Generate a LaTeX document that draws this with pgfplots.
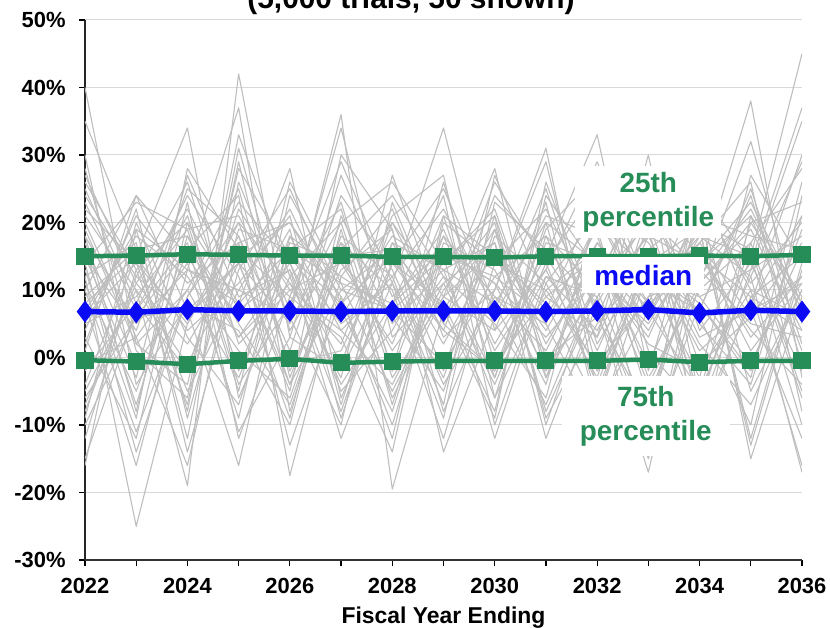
\documentclass[border=0pt]{standalone}
\usepackage{pgfplots}
\usepackage{pgfplotstable}
\pgfplotsset{compat=1.18}
\usepackage{fontspec}
\setmainfont{Liberation Sans}
\definecolor{pgreen}{RGB}{38,140,88}
\definecolor{pblue}{RGB}{10,10,245}
\definecolor{trialgray}{RGB}{190,190,190}
\definecolor{gridgray}{RGB}{217,217,217}

% 50 simulated trials shown (rows = trials, columns = fiscal years)
\pgfplotstableread{
s   2022 2023 2024 2025 2026 2027 2028 2029 2030 2031 2032 2033 2034 2035 2036
t1   40   2   10   -3   15    8   20    5   -2   12    9   18    3    7   11
t2   12 -25    5   18   -4   10    7   14   22    0    6   -8   15    9    4
t3    8  15   34   -6   12   20   -3    9   16    5  -10   13    7   25    2
t4   -5  10  -19   42    3   -2   14   25    8   -7   11   20   -1    6   17
t5   18   5   13   37   -8   15    1   12   -3   20   14    6   22   -5   10
t6    3 -12   20    8   28   -6   11   34    4   13   -2    9   18   12  -17
t7   22  14   -5   10    6   36 -19.5   7   19    2   15   -4   11   20    8
t8   10  24    7  -16   18    4   12   -7   27    9    3   30   -6   15   45
t9  -10   6   16   24 -17.5  12   22    3   10   31   -5   14    8   -2   19
t10  15  -3   27    9   13  -12    8   19    2   15   33   -2   24   10    6
t11  27  11    2   15   20    7   -8   16   11   -4   21    8   13   38   -3
t12   6  19   -8   31    4   17   10  -12   14   22    7  -17   16    3   12
t13  -2   8   24   12   -9   21    5   13   -6   18   10   27    4   14   37
t14  14 -14    9   20   11   -3   27    6   15    8   -7   16   22  -15    9
t15  20   3   14   -9   24   10   16   -2   21  -10   12    5   17   26   -8
t16   9  16  -12   26    7   34    3   11   -4   14   25   10   -9    8   21
t17  -8  12    6   14   -4   18   12   22    7   25    2   15   11   19    4
t18  16  -7   18    3   14   -1   20    9   28   -3   17    7   -5   12   29
t19   4  21   11   17  -13    9  -10   15   12    6   19   -6   14   21    1
t20  25   8   -2   22   10   14    6   -5   18   11   -3   22    9   -1   16
t21  11  -5   16    6   19   -9   14    8   -8   24   13    3   20   16   -6
t22 -12  13   20   -4    8   23   -2   18    9    1   16   12   -3   27   14
t23  19   2   -4   28   15    5   11   -9   23   16    8  -11   26    7  -12
t24   7  18   12    1   -6   16   24   12    5   -6   22   17    6  -10   24
t25  13  -9   28   16    9    3  -14   20   14   10   -1    9   12   22    7
t26  -4  15    4   11   21   -7   17    4   -2   19   27    1   -8   13   18
t27  23   7   17  -11    3   27    9   16   11    3   12   25   15    4   -4
t28   2  22   -9   19   16   11   -5   10   20   -9    5   14   19  -13   13
t29  17  -1   10   25   -2   13   19  -14    6   21   18   -3   10   17   28
t30  -7  11   22    7   13   -4    8   24  -10   12    4   19  -11    9   15
t31  12  17  -14   13   25    8   15    2   16    7   24   11    7   24   -1
t32  30  -4    8    4  -10   19   -7   17   13   -2   10   -9   23   11   20
t33   5   9   19   21    6  -10   23    5   26   14   -4   16    2   -7   10
t34  -9  20    3   -7   17   14    2   21   -3   17   14    4   18   15  -10
t35  15   4   25   18    1   24   13   -4    9    5   20   13   -5   20   23
t36   8 -16   13   10   22    6   18   13   17  -12    8   21   13    5    3
t37  26  13   -7   29   -3   17   -6    9    4   23   -8    7   21   18   16
t38   1  24   15    3   11    2   21   27   -6   10   16  -13    8   -3   26
t39 -15   7   21   -2   18   12    7   -1   12   18    1   18   14   23    8
t40  21  10   -1   14    5   20   26   14   21   -1   13    2   -2   10  -16
t41  10 -11    9   23   14   -5    4   18    1   13   29   10   17    6   12
t42  35  16   18    5   -7   15   16    7   -9   26    6   23    5   -4   21
t43  -1   3  -16   17   20    9  -12   21   15    4   17    8   25   14   -2
t44  18  -8   23  -12    9   29   11   -3   19   -8    9  -15   11   32    5
t45   6  14    5   20   -1    1   17   13    8   20   -6   15    1    8   30
t46 -16  19   13    8   16   22   -2   26   -1    9   15   -1   16    1   11
t47  28   1   -6   33   12   -8   14    4   24   15    3   19   -7   17   -5
t48  14  23   19   -5   26   11    8   15  -12   11   21    6   19  -12   14
t49  -6   6    7   14   -5   30   19   -8   10   29   -2   12    9   13   35
t50  24  12   26    2   10    4   -4   11   17   -3   11   28  -14   21    9
}\rawtrials
\pgfplotstabletranspose[colnames from=s,input colnames to=yr]\trials\rawtrials

\pgfplotstableread{
yr   p25  med  p75
2022 15.0 6.8 -0.4
2023 15.1 6.7 -0.6
2024 15.3 7.1 -1.0
2025 15.2 6.9 -0.5
2026 15.1 6.9 -0.2
2027 15.1 6.8 -0.8
2028 14.9 6.9 -0.6
2029 14.9 6.9 -0.5
2030 14.8 6.9 -0.5
2031 15.0 6.8 -0.5
2032 15.0 6.9 -0.5
2033 15.0 7.1 -0.3
2034 15.1 6.6 -0.7
2035 15.0 7.0 -0.5
2036 15.2 6.8 -0.5
}\pct

\begin{document}
\begin{tikzpicture}
\begin{axis}[
  name=ax,
  scale only axis, width=717bp, height=540bp,
  xmin=2022, xmax=2036, ymin=-30, ymax=50,
  axis x line=bottom, axis y line=left, axis line style={-},
  x axis line style={line width=2.5bp, black!80},
  y axis line style={line width=1.2bp, black!85},
  xtick={2022,2024,...,2036},
  xticklabels={2022,2024,2026,2028,2030,2032,2034,2036},
  minor xtick={2023,2025,...,2035},
  ytick={-30,-20,...,50},
  yticklabels={-30\%,-20\%,-10\%,0\%,10\%,20\%,30\%,40\%,50\%},
  tick align=outside, major tick length=6bp, minor tick length=6bp,
  tick style={black, line width=1.2bp},
  ymajorgrids, grid style={gridgray, line width=1bp},
  tick label style={font=\fontsize{22}{22}\selectfont\bfseries},
  xticklabel style={yshift=-9bp},
  yticklabel style={xshift=-10bp},
  xlabel={Fiscal Year Ending},
  xlabel style={font=\fontsize{23}{23}\selectfont\bfseries, yshift=-6bp},
  clip mode=individual,
]
\pgfplotsinvokeforeach{1,...,50}{
  \addplot[trialgray, line width=1.1bp, line join=round] table[x=yr, y=t#1] {\trials};
}
\addplot[pgreen, line width=4.5bp, mark=square*, mark size=6.3bp] table[x=yr, y=p25] {\pct};
\addplot[pgreen, line width=4.5bp, mark=square*, mark size=6.3bp] table[x=yr, y=p75] {\pct};
\addplot[pblue, line width=5.5bp, mark=diamond*, mark size=6.5bp] table[x=yr, y=med] {\pct};

\node[fill=white, align=center, inner xsep=7bp, inner ysep=6bp, text=pgreen,
      font=\fontsize{28}{34}\selectfont\bfseries] at (axis cs:2033.0,23.0) {25th\\percentile};
\node[fill=white, align=center, inner xsep=12bp, inner ysep=8bp, text=pblue,
      font=\fontsize{28}{34}\selectfont\bfseries] at (axis cs:2032.9,12.2) {median};
\node[fill=white, align=center, inner xsep=18bp, inner ysep=10bp, text=pgreen,
      font=\fontsize{28}{34}\selectfont\bfseries] at (axis cs:2032.95,-8.7) {75th\\percentile};
\end{axis}
\node[anchor=base, font=\fontsize{30}{30}\selectfont\bfseries]
  at ([xshift=326bp,yshift=11bp]ax.north west) {(5,000 trials, 50 shown)};
\pgfresetboundingbox
\path[use as bounding box] ([xshift=-85bp,yshift=-68bp]ax.south west) rectangle ([xshift=28bp,yshift=20bp]ax.north east);
\end{tikzpicture}
\end{document}
